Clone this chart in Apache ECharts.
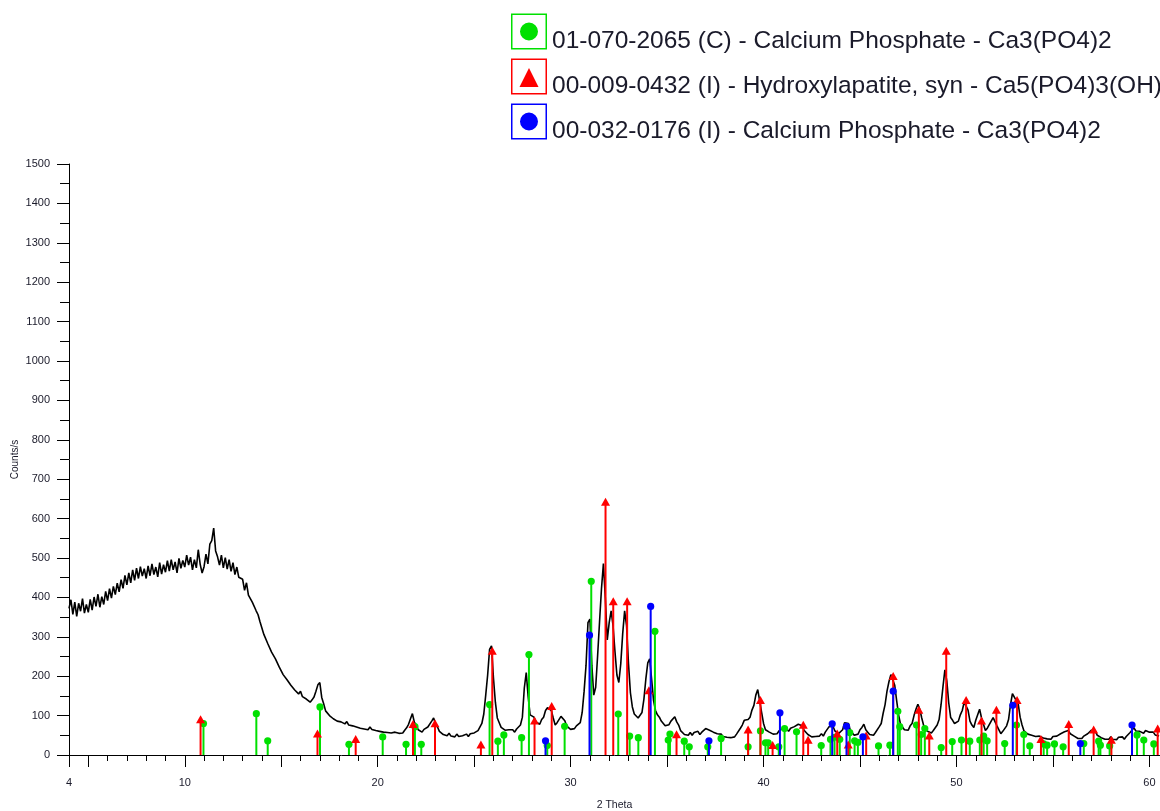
<!DOCTYPE html>
<html>
<head>
<meta charset="utf-8">
<script src="https://cdn.jsdelivr.net/npm/echarts@6/dist/echarts.min.js"></script>
<style>
html,body{margin:0;padding:0;background:#fff;}
#chart{width:1160px;height:811px;}
</style>
</head>
<body>
<div id="chart"></div>
<script>
const scanStart = 4.0;
const scanStep = 0.1;
const counts = [
/*4*/ 372,394,357,388,352,385,365,397,360,382,
/*5*/ 362,395,368,401,377,408,375,402,382,415,
/*6*/ 392,422,398,428,407,436,414,445,423,456,
/*7*/ 432,462,437,470,443,474,448,478,454,473,
/*8*/ 448,480,455,485,458,477,452,488,459,483,
/*9*/ 464,493,467,496,470,490,462,499,474,494,
/*10*/ 477,507,482,502,470,496,475,521,484,462,
/*11*/ 478,510,485,535,544,576,518,503,482,507,
/*12*/ 475,501,472,496,466,488,458,477,451,450,
/*13*/ 446,418,437,406,410,388,386,366,356,338,
/*14*/ 336,306,309,283,284,261,259,244,240,223,
/*15*/ 226,204,208,191,192,177,180,165,170,155,
/*16*/ 162,148,153,142,145,134,140,147,162,178,
/*17*/ 184,146,130,112,112,100,104,92,96,86,
/*18*/ 90,84,87,79,85,76,80,74,77,71,
/*19*/ 74,68,73,66,70,64,71,65,69,62,
/*20*/ 66,60,64,58,63,57,62,56,61,58,
/*21*/ 62,55,60,56,63,69,78,92,105,83,
/*22*/ 76,64,66,58,65,63,71,74,86,94,
/*23*/ 79,71,60,58,52,55,49,55,48,53,
/*24*/ 46,53,47,52,49,45,53,47,54,49,
/*25*/ 56,53,62,64,80,104,152,203,268,277,
/*26*/ 196,134,94,82,70,69,63,66,64,61,
/*27*/ 64,58,66,63,76,96,170,209,148,102,
/*28*/ 97,96,84,79,78,90,96,113,120,125,
/*29*/ 113,94,76,82,86,98,95,87,73,72,
/*30*/ 65,68,67,74,76,82,108,162,228,336,
/*31*/ 345,228,152,172,252,338,422,486,398,292,
/*32*/ 336,366,328,262,203,184,232,308,366,328,
/*33*/ 232,158,122,104,101,94,99,108,142,193,
/*34*/ 234,244,192,138,113,102,96,86,82,74,
/*35*/ 73,77,86,85,97,84,76,62,59,52,
/*36*/ 53,50,57,50,57,53,60,52,58,60,
/*37*/ 67,66,63,59,58,53,54,51,53,47,
/*38*/ 52,45,50,44,49,46,53,57,68,76,
/*39*/ 88,89,90,96,114,126,152,166,162,108,
/*40*/ 80,64,64,58,60,53,58,54,61,60,
/*41*/ 68,66,66,60,68,63,72,71,78,75,
/*42*/ 74,63,60,52,52,46,48,47,49,48,
/*43*/ 54,48,58,60,72,74,73,61,62,55,
/*44*/ 60,64,82,87,80,62,59,50,53,53,
/*45*/ 64,70,78,64,58,52,53,50,57,60,
/*46*/ 72,80,106,128,162,186,204,205,177,138,
/*47*/ 102,78,74,64,65,63,74,80,100,116,
/*48*/ 129,116,94,75,70,60,62,56,62,62,
/*49*/ 76,90,127,173,216,188,132,95,88,80,
/*50*/ 82,86,102,113,134,136,114,86,76,70,
/*51*/ 88,102,116,94,78,62,68,70,86,95,
/*52*/ 92,74,64,54,60,60,74,90,127,156,
/*53*/ 152,138,130,96,76,61,60,53,56,50,
/*54*/ 53,47,50,48,49,43,48,41,46,40,
/*55*/ 47,45,48,48,54,53,59,56,62,54,
/*56*/ 56,48,49,42,44,42,48,47,54,55,
/*57*/ 63,61,60,50,50,44,46,40,45,40,
/*58*/ 46,40,45,39,45,40,46,40,47,46,
/*59*/ 57,62,69,61,62,60,60,55,62,57,
/*60*/ 58,53,58,51,54,48
];

// ---- reference patterns: [2Theta, intensity] ----
const phaseNames = [
  '01-070-2065 (C) - Calcium Phosphate - Ca3(PO4)2',
  '00-009-0432 (I) - Hydroxylapatite, syn - Ca5(PO4)3(OH)',
  '00-032-0176 (I) - Calcium Phosphate - Ca3(PO4)2'
];
const greenSticks = [
  [10.97,80],[13.71,105],[14.30,36],[17.01,122],[18.51,27],[20.26,46],[21.47,27],[21.93,72],[22.26,27],
  [25.80,128],[26.23,35],[26.54,51],[27.46,44],[27.84,255],[28.79,24],[29.69,73],[31.07,441],[32.47,104],
  [33.06,48],[33.51,44],[34.37,314],[35.06,38],[35.15,53],[35.89,35],[36.15,21],[37.11,21],[37.80,42],
  [39.20,21],[39.84,61],[40.10,31],[40.24,31],[40.79,21],[41.09,67],[41.71,59],[42.99,24],[43.47,40],
  [43.68,45],[43.95,40],[44.47,57],[44.72,36],[44.89,32],[45.96,23],[46.55,25],[46.96,111],[47.06,72],
  [47.93,76],[48.17,52],[48.36,67],[49.21,19],[49.78,34],[50.26,38],[50.69,35],[51.21,38],[51.41,48],
  [51.59,36],[52.50,29],[53.11,76],[53.49,52],[53.80,23],[54.52,28],[54.70,25],[55.08,28],[55.53,21],
  [56.60,29],[57.37,35],[57.46,25],[57.94,23],[59.36,51],[59.71,38],[60.23,28]
];
const redSticks = [
  [10.82,88],[16.88,52],[18.86,38],[21.83,76],[22.97,78],[25.35,24],[25.94,262],[28.13,85],[29.02,122],
  [31.81,640],[32.21,388],[32.93,388],[34.06,162],[35.49,50],[39.20,62],[39.84,137],[40.47,23],[42.06,74],
  [42.31,36],[43.82,52],[44.39,24],[45.32,47],[46.72,198],[48.05,112],[48.59,47],[49.47,262],[50.50,137],
  [51.30,85],[52.07,112],[53.14,137],[54.38,38],[55.82,76],[57.11,62],[58.03,36],[60.43,65]
];
const blueSticks = [
  [28.70,36],[30.98,304],[34.15,377],[37.17,36],[40.85,107],[43.56,79],[44.30,73],[45.15,46],
  [46.72,162],[52.92,126],[56.42,29],[59.10,76]
];
const xLabelValues = [4,10,20,30,40,50,60];
const xMajorTicks = [4,5,10,15,20,25,30,35,40,45,50,55,60];
const xMinorTicks = [5,6,7,8,9,11,12,13,14,16,17,18,19,21,22,23,24,26,27,28,29,31,32,33,34,36,37,38,39,41,42,43,44,46,47,48,49,51,52,53,54,56,57,58,59,60];

const GREEN = '#00e000', RED = '#ff0000', BLUE = '#0000ff';
const FONT = 'Liberation Sans, Arial, sans-serif';

const scan = counts.map((c, i) => [Math.round((scanStart + i * scanStep) * 100) / 100, c]);

const boxOutline = 'M0,0 L36,0 L36,36 L0,36 Z M1.5,1.5 L1.5,34.5 L34.5,34.5 L34.5,1.5 Z ';
const iconCircle = 'path://' + boxOutline + 'M18,9 A9,9 0 1,1 17.99,9 Z';
const iconTriangle = 'path://' + boxOutline + 'M18,9.5 L27.5,28.5 L8.5,28.5 Z';

function stickRenderer(marker) {
  return function (params, api) {
    const x = api.value(0), y = api.value(1);
    const p0 = api.coord([x, 0]);
    const p1 = api.coord([x, y]);
    const color = api.visual('color');
    let sym;
    if (marker === 'triangle') {
      sym = {type: 'polygon', shape: {points: [[p1[0], p1[1] - 5], [p1[0] + 4.5, p1[1] + 3], [p1[0] - 4.5, p1[1] + 3]]}, style: {fill: color}};
    } else {
      sym = {type: 'circle', shape: {cx: p1[0], cy: p1[1], r: 3.6}, style: {fill: color}};
    }
    return {
      type: 'group',
      children: [
        {type: 'line', shape: {x1: p0[0], y1: p0[1], x2: p1[0], y2: p1[1]}, style: {stroke: color, lineWidth: 2}},
        sym
      ]
    };
  };
}

const chart = echarts.init(document.getElementById('chart'), null, {renderer: 'canvas'});
chart.setOption({
  animation: false,
  backgroundColor: '#fff',
  grid: {left: 69, right: 0, top: 164, bottom: 56, containLabel: false, outerBoundsMode: 'none'},
  legend: {
    orient: 'vertical',
    left: 511, top: 9, padding: 0,
    itemWidth: 36, itemHeight: 36, itemGap: 0,
    selectedMode: false,
    data: [
      {name: phaseNames[0], icon: iconCircle},
      {name: phaseNames[1], icon: iconTriangle},
      {name: phaseNames[2], icon: iconCircle}
    ],
    formatter: function (name) { return '{t|' + name + '}'; },
    textStyle: {
      fontSize: 24.5, fontFamily: FONT, color: '#1a1a2a',
      rich: {t: {fontSize: 24.5, fontFamily: FONT, color: '#1a1a2a', lineHeight: 17, padding: [20, 0, 0, 0]}}
    }
  },
  xAxis: [{
    type: 'value', min: 4, max: 60.55,
    name: '2 Theta', nameLocation: 'middle', nameGap: 45, nameMoveOverlap: false,
    nameTextStyle: {fontSize: 10.5, fontFamily: FONT, color: '#1a1a2a'},
    axisLine: {show: true, onZero: false, lineStyle: {color: '#000', width: 1}},
    axisTick: {show: true, length: 12, customValues: xMajorTicks, lineStyle: {color: '#000'}},
    axisLabel: {show: true, customValues: xLabelValues, margin: 22, fontSize: 11, fontFamily: FONT, color: '#1a1a2a'},
    splitLine: {show: false}
  }, {
    type: 'value', min: 4, max: 60.55, position: 'bottom', gridIndex: 0,
    axisLine: {show: false},
    axisTick: {show: true, length: 6, customValues: xMinorTicks, lineStyle: {color: '#000'}},
    axisLabel: {show: false},
    splitLine: {show: false}
  }],
  yAxis: {
    type: 'value', min: 0, max: 1500, interval: 100,
    name: 'Counts/s', nameLocation: 'middle', nameGap: 49, nameRotate: 90, nameMoveOverlap: false,
    nameTextStyle: {fontSize: 10, fontFamily: FONT, color: '#1a1a2a'},
    axisLine: {show: true, lineStyle: {color: '#000', width: 1}},
    axisTick: {show: true, length: 12, lineStyle: {color: '#000'}},
    minorTick: {show: true, splitNumber: 2, length: 9, lineStyle: {color: '#000'}},
    axisLabel: {margin: 19, fontSize: 11, fontFamily: FONT, color: '#1a1a2a', formatter: function (v) { return String(v); }},
    splitLine: {show: false}
  },
  series: [
    {
      name: 'scan', type: 'line', data: scan, showSymbol: false, symbol: 'none',
      lineStyle: {color: '#000', width: 1.6}, z: 1, silent: true
    },
    {
      name: phaseNames[0], type: 'custom', data: greenSticks, renderItem: stickRenderer('circle'),
      itemStyle: {color: GREEN}, encode: {x: 0, y: 1}, z: 3
    },
    {
      name: phaseNames[1], type: 'custom', data: redSticks, renderItem: stickRenderer('triangle'),
      itemStyle: {color: RED}, encode: {x: 0, y: 1}, z: 4
    },
    {
      name: phaseNames[2], type: 'custom', data: blueSticks, renderItem: stickRenderer('circle'),
      itemStyle: {color: BLUE}, encode: {x: 0, y: 1}, z: 5
    }
  ]
});
</script>
</body>
</html>
